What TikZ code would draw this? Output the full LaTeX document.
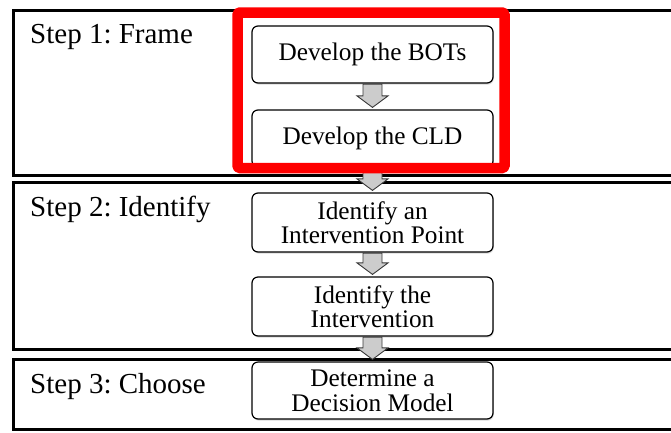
\documentclass[tikz,border=0pt]{standalone}
\usepackage{fontspec}
\setmainfont{Liberation Serif}
\usetikzlibrary{shadows,calc}
\frenchspacing
\begin{document}
\begin{tikzpicture}[x=1pt,y=-1pt,
  frame/.style={draw=black,line width=3pt},
  stepbox/.style={draw=black,line width=1.2pt,rounded corners=6pt,fill=white,
    minimum width=241pt,minimum height=57pt,align=center,inner sep=0pt,
    font=\fontsize{25.3}{24.5}\selectfont,
    drop shadow={opacity=0.3,shadow xshift=0.8pt,shadow yshift=-1.6pt}},
  steplabel/.style={anchor=base west,font=\fontsize{29}{29}\selectfont,inner sep=0pt},
  blockarr/.style={draw=gray!45!black,fill=gray!40,line width=0.9pt,line join=miter},
  highlight/.style={draw=red,line width=10.5pt,rounded corners=1.5pt,line join=round}
]
\useasboundingbox (0,0) rectangle (671,432);
\clip (0,0) rectangle (671,432);
% step frames
\draw[frame] (13.5,10.5) rectangle (700,175.5);
\draw[frame] (13.5,182) rectangle (700,349);
\draw[frame] (13.5,359.5) rectangle (700,429.5);
% labels
\node[steplabel] (l1) at (30,43) {Step 1: Frame};
\node[steplabel] (l2) at (30,216) {Step 2: Identify};
\node[steplabel] (l3) at (30,393) {Step 3: Choose};
% boxes
\node[stepbox] (bots) at (372.5,54.5) {Develop the BOTs};
\node[stepbox] (cld) at (372.5,138.5) {Develop the CLD};
\node[stepbox,minimum height=59pt] (iip) at (372.5,222.5) {Identify an\\Intervention Point};
\node[stepbox,minimum height=59pt] (it) at (372.5,306.5) {Identify the\\Intervention};
\node[stepbox] (ddm) at (372.5,390.5) {Determine a\\Decision Model};
% block arrows
\foreach \a/\b in {bots/cld,cld/iip,iip/it,it/ddm}{
  \path let \p1=(\a.south), \p2=(\b.north) in
    [blockarr] (\x1-9.5pt,\y1-0.5pt) -- (\x1+9.5pt,\y1-0.5pt) -- (\x1+9.5pt,\y2+13.5pt)
    -- (\x1+15.5pt,\y2+13.5pt) -- (\x1,\y2+2pt) -- (\x1-15.5pt,\y2+13.5pt)
    -- (\x1-9.5pt,\y2+13.5pt) -- cycle;
}
% red highlight
\draw[highlight] (237.5,12.5) rectangle (504.5,168);
\end{tikzpicture}
\end{document}
